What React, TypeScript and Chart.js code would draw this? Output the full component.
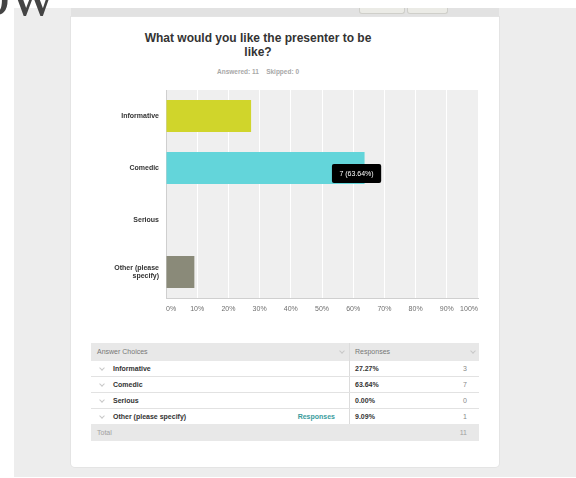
import React, { useEffect, useRef } from 'react';
import { Chart, registerables } from 'chart.js';

Chart.register(...registerables);

const FONT = '"Liberation Sans", Arial, Helvetica, sans-serif';

const questionTitle = 'What would you like the presenter to be like?';
const answeredCount = 11;
const skippedCount = 0;

const categories = ['Informative', 'Comedic', 'Serious', 'Other (please specify)'];
const percents = [27.27, 63.64, 0.0, 9.09];
const counts = [3, 7, 0, 1];
const barColors = ['#d0d52b', '#63d5da', '#cccccc', '#8a8a79'];
const xTickValues = [0, 10, 20, 30, 40, 50, 60, 70, 80, 90, 100];
const totalCount = 11;
const highlightedIndex = 1;

function wrapLabel(s: string, max = 13): string | string[] {
  const words = s.split(' ');
  const lines: string[] = [];
  let cur = '';
  for (const w of words) {
    const next = cur ? cur + ' ' + w : w;
    if (next.length > max && cur) {
      lines.push(cur);
      cur = w;
    } else cur = next;
  }
  if (cur) lines.push(cur);
  return lines.length === 1 ? lines[0] : lines;
}

function Chevron({ left, top }: { left: number; top: number }) {
  return (
    <div
      style={{
        position: 'absolute',
        left,
        top,
        width: 3,
        height: 3,
        borderRight: '1px solid #c8c8c8',
        borderBottom: '1px solid #c8c8c8',
        transform: 'rotate(45deg)',
      }}
    />
  );
}

export default function App() {
  const ref = useRef<HTMLCanvasElement>(null);

  useEffect(() => {
    if (!ref.current) return;
    const bgPlugin = {
      id: 'plotBg',
      beforeDraw(chart: any) {
        const { ctx, chartArea: a } = chart;
        ctx.save();
        ctx.fillStyle = '#efefef';
        ctx.fillRect(a.left, a.top, a.right - a.left, a.bottom - a.top);
        ctx.restore();
      },
    };
    const tipPlugin = {
      id: 'fixedTip',
      afterDatasetsDraw(chart: any) {
        const i = highlightedIndex;
        const meta = chart.getDatasetMeta(0);
        const el = meta.data[i];
        if (!el) return;
        const { ctx } = chart;
        const x = chart.scales.x.getPixelForValue(percents[i]);
        const y = el.y;
        const text = `${counts[i]} (${percents[i].toFixed(2)}%)`;
        ctx.save();
        ctx.font = `7px ${FONT}`;
        const w = ctx.measureText(text).width + 15;
        const h = 19;
        const cx = x - 8;
        const top = y - 4;
        ctx.fillStyle = '#000';
        ctx.beginPath();
        (ctx as any).roundRect(cx - w / 2, top, w, h, 2);
        ctx.fill();
        ctx.fillStyle = '#fff';
        ctx.textAlign = 'center';
        ctx.textBaseline = 'middle';
        ctx.fillText(text, cx, top + h / 2 + 0.5);
        ctx.restore();
      },
    };
    const chart = new Chart(ref.current, {
      type: 'bar',
      data: {
        labels: categories.map((c) => wrapLabel(c)),
        datasets: [
          {
            data: percents,
            backgroundColor: barColors,
            borderWidth: 0,
            barPercentage: 0.615,
            categoryPercentage: 1,
          },
        ],
      },
      options: {
        indexAxis: 'y',
        animation: false,
        responsive: false,
        events: [],
        layout: { padding: { top: 5, right: 22, left: 0, bottom: 0 } },
        plugins: { legend: { display: false }, tooltip: { enabled: false } },
        scales: {
          x: {
            min: 0,
            max: 100,
            afterBuildTicks: (s: any) => {
              s.ticks = xTickValues.map((v) => ({ value: v }));
            },
            afterFit: (s: any) => {
              s.height = 27;
              s.paddingLeft = 0;
              s.paddingRight = 0;
            },
            ticks: {
              callback: (v: any) => v + '%',
              align: 'inner',
              padding: 7,
              autoSkip: false,
              maxRotation: 0,
              color: '#6f6f6f',
              font: { family: FONT, size: 7 },
            },
            grid: {
              drawTicks: false,
              lineWidth: 1,
              color: (c: any) => (c.tick && c.tick.value === 0 ? 'rgba(0,0,0,0)' : '#ffffff'),
            },
            border: { display: true, color: '#cfcfcf' },
          },
          y: {
            afterFit: (s: any) => {
              s.width = 86;
              s.paddingTop = 0;
              s.paddingBottom = 0;
            },
            ticks: {
              padding: 7,
              color: '#333',
              font: { family: FONT, size: 7, weight: 'bold', lineHeight: 1.15 },
            },
            grid: { display: false, drawTicks: false },
            border: { display: true, color: '#cfcfcf' },
          },
        },
      } as any,
      plugins: [bgPlugin, tipPlugin],
    });
    return () => chart.destroy();
  }, []);

  const rowTop = 361;
  const rowH = 16;

  return (
    <div
      style={{
        position: 'fixed',
        left: 0,
        top: 0,
        width: 576,
        height: 478,
        background: '#fff',
        overflow: 'hidden',
        fontFamily: FONT,
      }}
    >
      <div style={{ position: 'absolute', left: 14, top: 8, width: 562, height: 469, background: '#ededed' }} />
      <div style={{ position: 'absolute', left: 71, top: 8, width: 428, height: 9, background: '#e2e2e2' }} />
      <div
        style={{
          position: 'absolute',
          left: 359,
          top: 8,
          width: 44,
          height: 5,
          background: '#ebebe6',
          border: '1px solid #cfcfca',
          borderTop: 'none',
          borderRadius: '0 0 3px 3px',
        }}
      />
      <div
        style={{
          position: 'absolute',
          left: 407,
          top: 8,
          width: 39,
          height: 5,
          background: '#ebebe6',
          border: '1px solid #cfcfca',
          borderTop: 'none',
          borderRadius: '0 0 3px 3px',
        }}
      />
      <div
        style={{
          position: 'absolute',
          left: 71,
          top: 17,
          width: 428,
          height: 450,
          background: '#fff',
          borderRadius: '0 0 4px 4px',
          boxShadow: '0 0 0 1px #e4e4e4',
        }}
      />
      <div
        style={{
          position: 'absolute',
          left: -22,
          top: -38,
          fontFamily: '"Liberation Serif", "Times New Roman", serif',
          fontSize: 64,
          lineHeight: 1,
          color: '#444',
          whiteSpace: 'nowrap',
        }}
      >
        ow
      </div>
      <div
        style={{
          position: 'absolute',
          left: 108,
          width: 300,
          top: 31,
          textAlign: 'center',
          fontWeight: 'bold',
          fontSize: 12,
          lineHeight: '14px',
          color: '#333',
        }}
      >
        {questionTitle.replace(' like?', '')}
        <br />
        like?
      </div>
      <div
        style={{
          position: 'absolute',
          left: 158,
          width: 200,
          top: 68,
          textAlign: 'center',
          fontWeight: 'bold',
          fontSize: 6.5,
          lineHeight: '8px',
          color: '#a8a8a8',
          whiteSpace: 'pre',
        }}
      >
        {`Answered: ${answeredCount}    Skipped: ${skippedCount}`}
      </div>
      <canvas
        ref={ref}
        width={420}
        height={240}
        style={{ position: 'absolute', left: 80, top: 85, width: 420, height: 240 }}
      />
      <div style={{ position: 'absolute', left: 91, top: 343, width: 388, height: 18, background: '#e8e8e8' }} />
      <div style={{ position: 'absolute', left: 97, top: 348, fontSize: 7, color: '#777', lineHeight: '8px' }}>
        Answer Choices
      </div>
      <div style={{ position: 'absolute', left: 355, top: 348, fontSize: 7, color: '#777', lineHeight: '8px' }}>
        Responses
      </div>
      <Chevron left={340} top={349} />
      <Chevron left={471} top={349} />
      <div style={{ position: 'absolute', left: 349, top: 343, width: 1, height: 81, background: '#dcdcdc' }} />
      {categories.map((c, i) => {
        const t = rowTop + i * rowH;
        return (
          <React.Fragment key={c}>
            <div
              style={{
                position: 'absolute',
                left: 91,
                top: t + rowH - 1,
                width: 388,
                height: 1,
                background: '#e2e2e2',
              }}
            />
            <Chevron left={100} top={t + 5} />
            <div
              style={{
                position: 'absolute',
                left: 113,
                top: t + 4,
                fontSize: 7,
                fontWeight: 'bold',
                color: '#333',
                lineHeight: '8px',
                whiteSpace: 'nowrap',
              }}
            >
              {c}
            </div>
            {c.startsWith('Other') && (
              <div
                style={{
                  position: 'absolute',
                  right: 576 - 335,
                  top: t + 4,
                  fontSize: 7,
                  fontWeight: 'bold',
                  color: '#3a9c9d',
                  lineHeight: '8px',
                }}
              >
                Responses
              </div>
            )}
            <div
              style={{
                position: 'absolute',
                left: 355,
                top: t + 4,
                fontSize: 7,
                fontWeight: 'bold',
                color: '#333',
                lineHeight: '8px',
              }}
            >
              {percents[i].toFixed(2)}%
            </div>
            <div
              style={{
                position: 'absolute',
                right: 576 - 467,
                top: t + 4,
                fontSize: 7,
                color: '#888',
                lineHeight: '8px',
              }}
            >
              {counts[i]}
            </div>
          </React.Fragment>
        );
      })}
      <div style={{ position: 'absolute', left: 91, top: 424, width: 388, height: 17, background: '#e8e8e8' }} />
      <div style={{ position: 'absolute', left: 97, top: 429, fontSize: 7, color: '#a0a0a0', lineHeight: '8px' }}>
        Total
      </div>
      <div
        style={{
          position: 'absolute',
          right: 576 - 467,
          top: 429,
          fontSize: 7,
          color: '#a0a0a0',
          lineHeight: '8px',
        }}
      >
        {totalCount}
      </div>
    </div>
  );
}
